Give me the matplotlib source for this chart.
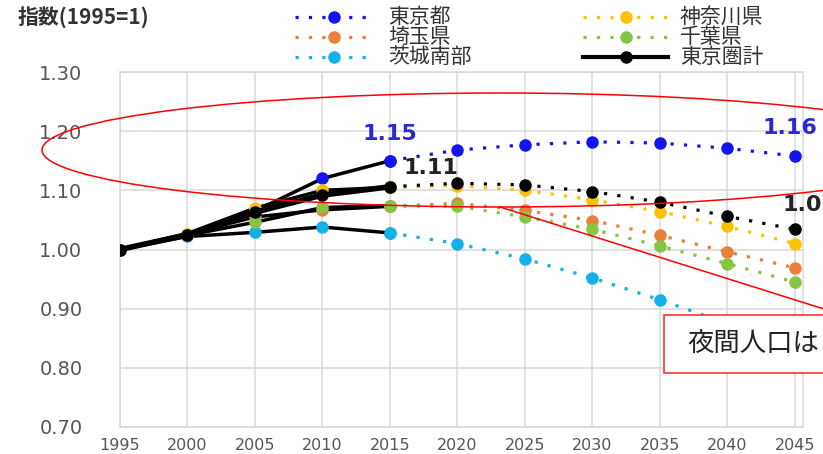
import matplotlib
import matplotlib.pyplot as plt
from matplotlib.lines import Line2D
from matplotlib.patches import Ellipse, Rectangle

matplotlib.use('Agg')

# index of night-time population, 1995 = 1 (actual to 2015, projection after)
years = [1995, 2000, 2005, 2010, 2015, 2020, 2025, 2030, 2035, 2040, 2045]
tokyo = [1.00, 1.025, 1.065, 1.12, 1.15, 1.168, 1.177, 1.182, 1.18, 1.171, 1.158]
kanagawa = [1.00, 1.027, 1.07, 1.10, 1.105, 1.108, 1.10, 1.084, 1.064, 1.039, 1.01]
saitama = [1.00, 1.026, 1.055, 1.067, 1.073, 1.078, 1.066, 1.049, 1.024, 0.996, 0.969]
chiba = [1.00, 1.024, 1.046, 1.071, 1.074, 1.073, 1.055, 1.034, 1.006, 0.976, 0.945]
ibaraki_s = [1.00, 1.022, 1.029, 1.038, 1.028, 1.01, 0.984, 0.952, 0.915, 0.875, 0.835]
total = [1.00, 1.025, 1.063, 1.092, 1.106, 1.112, 1.109, 1.098, 1.08, 1.056, 1.034]

labels = ['東京都', '埼玉県', '茨城南部', '神奈川県', '千葉県', '東京圏計']
colors = ['#1414f0', '#e8803a', '#16b0e8', '#ffc000', '#86c443', '#000000']
series = [tokyo, saitama, ibaraki_s, kanagawa, chiba, total]

yticks = [0.70, 0.80, 0.90, 1.00, 1.10, 1.20, 1.30]
n_actual = 5  # 1995..2015 are actual values
cjk = ['Noto Sans CJK JP', 'DejaVu Sans']

W, H = 823, 454
fig = plt.figure(figsize=(W / 100, H / 100), dpi=100)
ax = fig.add_axes([120 / W, (H - 427) / H, (803 - 120) / W, (427 - 72) / H])


def fx(px):
    return px / W


def fy(py):
    return 1 - py / H


dots = (0, (1, 3.2))

# projections (dotted, in series colour)
for vals, c in zip(series, colors):
    ax.plot(years[n_actual - 1:], vals[n_actual - 1:], color=c, lw=2.3, ls=dots,
            marker='o', ms=8, zorder=2 if c != '#000000' else 3)

# actual values: black lines with coloured markers
for vals, c in zip(series[:-1], colors[:-1]):
    ax.plot(years[:n_actual], vals[:n_actual], color='black', lw=2.5, zorder=4)
    ax.plot(years[:n_actual], vals[:n_actual], 'o', color=c, ms=8, zorder=5)
ax.plot(years[:n_actual], total[:n_actual], color='black', lw=4, marker='o', ms=8, zorder=6)

ax.set_xlim(1995, 2045.6)
ax.set_ylim(0.70, 1.30)
ax.set_xticks(years)
ax.set_yticks(yticks)
ax.set_yticklabels([f'{v:.2f}' for v in yticks])
ax.grid(True, color='#d9d9d9', lw=1.1)
ax.set_axisbelow(True)
for s in ax.spines.values():
    s.set_color('#d9d9d9')
    s.set_linewidth(1.1)
ax.tick_params(axis='y', length=0, pad=27, labelsize=14, labelcolor='#555555')
ax.tick_params(axis='x', length=0, pad=8, labelsize=11.5, labelcolor='#555555')

# value labels
lab = dict(textcoords='offset pixels', fontsize=16, fontweight='bold', zorder=7,
           annotation_clip=False)
ax.annotate(f'{tokyo[4]:.2f}', (years[4], tokyo[4]), xytext=(0, 27), color='#2a2ad0',
            ha='center', va='center', **lab)
ax.annotate(f'{total[4]:.2f}', (years[4], total[4]), xytext=(41, 19), color='#222222',
            ha='center', va='center', **lab)
ax.annotate(f'{tokyo[-1]:.2f}', (years[-1], tokyo[-1]), xytext=(-32, 28), color='#2a2ad0',
            ha='left', va='center', **lab)
ax.annotate(f'{total[-1]:.2f}', (years[-1], total[-1]), xytext=(-12, 24), color='#222222',
            ha='left', va='center', **lab)

# header and legend
fig.text(fx(18), fy(17), '指数(1995=1)', family=cjk, fontsize=15, fontweight='bold',
         color='#333333', va='center', ha='left')
legend_cols = [(295, 372, 388), (583, 668, 680)]
legend_rows = [17, 37, 57]
for i, (name, c) in enumerate(zip(labels, colors)):
    x0, x1, xt = legend_cols[i // 3]
    y = fy(legend_rows[i % 3])
    solid = name == '東京圏計'
    fig.add_artist(Line2D([fx(x0), fx(x1)], [y, y], transform=fig.transFigure, color=c,
                          lw=3 if solid else 2.3, ls='-' if solid else dots))
    fig.add_artist(Line2D([fx((x0 + x1) / 2)], [y], transform=fig.transFigure, color=c,
                          marker='o', ms=8, lw=0))
    fig.text(fx(xt), y, name, family=cjk, fontsize=15, color='#333333', va='center', ha='left')

# highlight ellipse and callout
fig.add_artist(Ellipse((fx(500), fy(150)), 916 / W, 114 / H, transform=fig.transFigure,
                       fill=False, ec='#ff0000', lw=1.1, zorder=10))
fig.add_artist(Line2D([fx(500), fx(843)], [fy(207), fy(315)], transform=fig.transFigure,
                      color='#ff0000', lw=1.1, zorder=10))
fig.add_artist(Rectangle((fx(664), fy(373)), 300 / W, 58 / H, transform=fig.transFigure,
                         fc='white', ec='#ff3030', lw=1.2, zorder=11))
fig.text(fx(687), fy(344), '夜間人口は', family=cjk, fontsize=19, color='#222222',
         va='center', ha='left', zorder=12)

fig.savefig('out.png', dpi=100)
